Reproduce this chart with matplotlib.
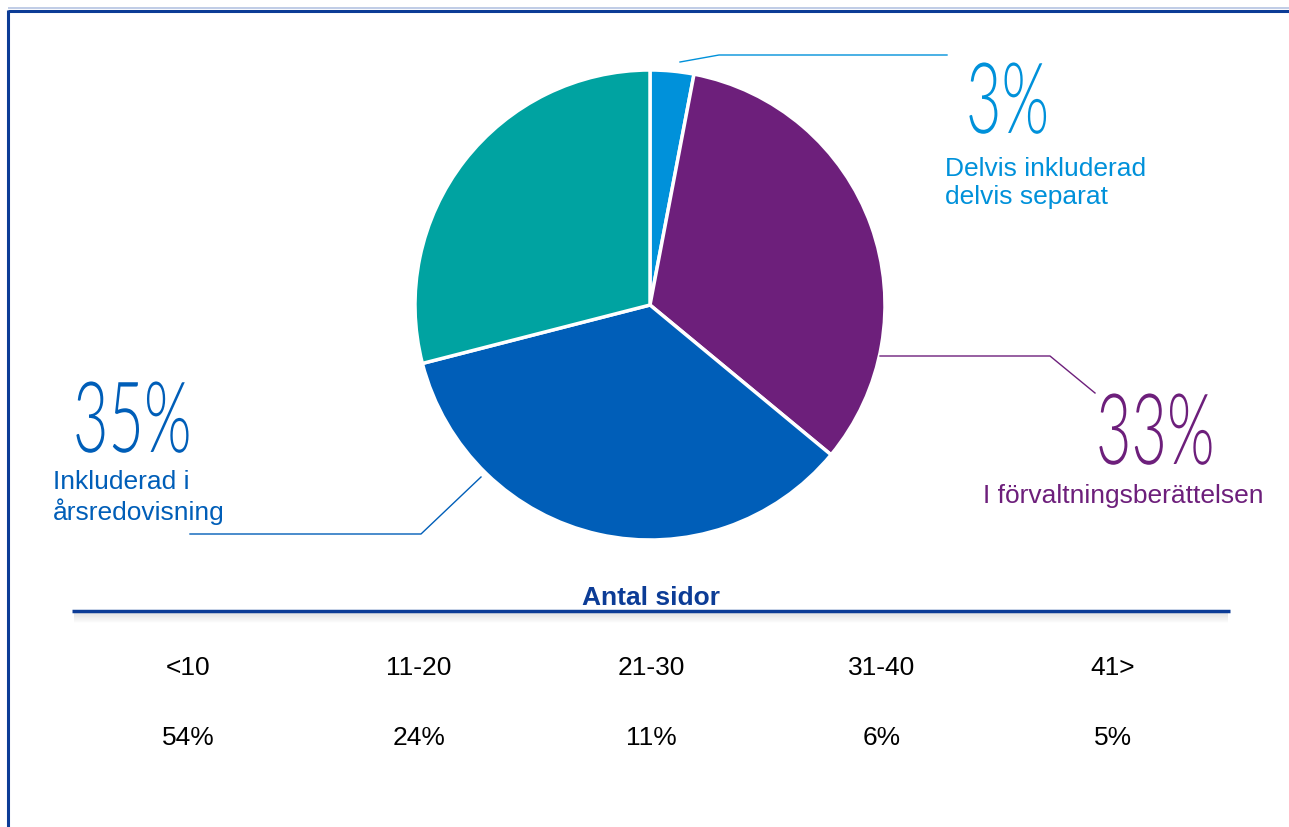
import matplotlib
matplotlib.use("Agg")
import matplotlib.pyplot as plt
from matplotlib import patheffects
from matplotlib.transforms import Affine2D

# Rapportens placering (andel av bolagen)
slice_names = ["Delvis inkluderad\ndelvis separat", "I förvaltningsberättelsen",
               "Inkluderad i\nårsredovisning", "Separat"]
slice_values = [3, 33, 35, 29]
slice_colors = ["#0091da", "#6d1f7b", "#005eb8", "#00a3a1"]

# Antal sidor
page_bins = ["<10", "11-20", "21-30", "31-40", "41>"]
page_shares = [54, 24, 11, 6, 5]

NAVY = "#0c3c96"
W, H = 1289, 827


class Squeeze(patheffects.AbstractPathEffect):
    """Compress glyphs horizontally around the text's left baseline."""

    def __init__(self, sx):
        super().__init__()
        self.sx = sx

    def draw_path(self, renderer, gc, tpath, affine, rgbFace=None):
        ox, oy = affine.transform((0, 0))
        aff = affine + Affine2D().translate(-ox, -oy).scale(self.sx, 1).translate(ox, oy)
        renderer.draw_path(gc, tpath, aff, rgbFace)


fig = plt.figure(figsize=(W / 100, H / 100), dpi=100)
ax = fig.add_axes([0, 0, 1, 1])

ax.pie(slice_values, colors=slice_colors, center=(650, 305), radius=235,
       startangle=-90, counterclock=True,
       wedgeprops=dict(edgecolor="white", linewidth=2.5))
ax.set_xlim(0, W)
ax.set_ylim(H, 0)
ax.set_aspect("equal")
ax.axis("off")


def big_pct(x, y, value, color):
    ax.text(x, y, f"{value}%", fontsize=71, fontweight=300, family=["Lato", "DejaVu Sans"],
            color=color, ha="left", va="baseline",
            path_effects=[Squeeze(0.62)])


def label(x, y, text, color):
    ax.text(x, y, text, fontsize=19, family="Liberation Sans", color=color,
            ha="left", va="baseline", linespacing=1.2)


# 3 %
ax.plot([680, 719, 947], [62, 55, 55], color=slice_colors[0], lw=1)
big_pct(966, 133, slice_values[0], slice_colors[0])
label(945, 204, slice_names[0], slice_colors[0])

# 33 %
ax.plot([880, 1050, 1095], [356, 356, 393], color=slice_colors[1], lw=1)
big_pct(1096, 464, slice_values[1], slice_colors[1])
label(983, 503, slice_names[1], slice_colors[1])

# 35 %
ax.plot([481, 421, 190], [477, 534, 534], color=slice_colors[2], lw=1)
big_pct(73, 452, slice_values[2], slice_colors[2])
label(53, 520, slice_names[2], slice_colors[2])

# Antal sidor-tabell
ax.text(651, 605, "Antal sidor", fontsize=19, fontweight="bold",
        family="Liberation Sans", color=NAVY, ha="center", va="baseline")
for k in range(1, 12):
    ax.plot([74, 1228], [611 + k, 611 + k], color="#9a9a9a",
            alpha=0.22 * (1 - k / 12), lw=1.2, solid_capstyle="butt")
ax.plot([72, 1230], [611, 611], color=NAVY, lw=2.5, solid_capstyle="butt")

xs = [188, 419, 651, 882, 1113]
for x, b, s in zip(xs, page_bins, page_shares):
    ax.text(x, 668, b, fontsize=19, family="Liberation Sans", color="black",
            ha="center", va="center")
    ax.text(x, 738, f"{s}%", fontsize=19, family="Liberation Sans", color="black",
            ha="center", va="center")

# ram
ax.plot([8, W], [8, 8], color="#b5c3e2", lw=1.2, solid_capstyle="butt")
ax.plot([8, W], [10.5, 10.5], color=NAVY, lw=2.2, solid_capstyle="butt")
ax.plot([8, 8], [10, H], color=NAVY, lw=2.2, solid_capstyle="butt")

fig.savefig("out.png", dpi=100)
